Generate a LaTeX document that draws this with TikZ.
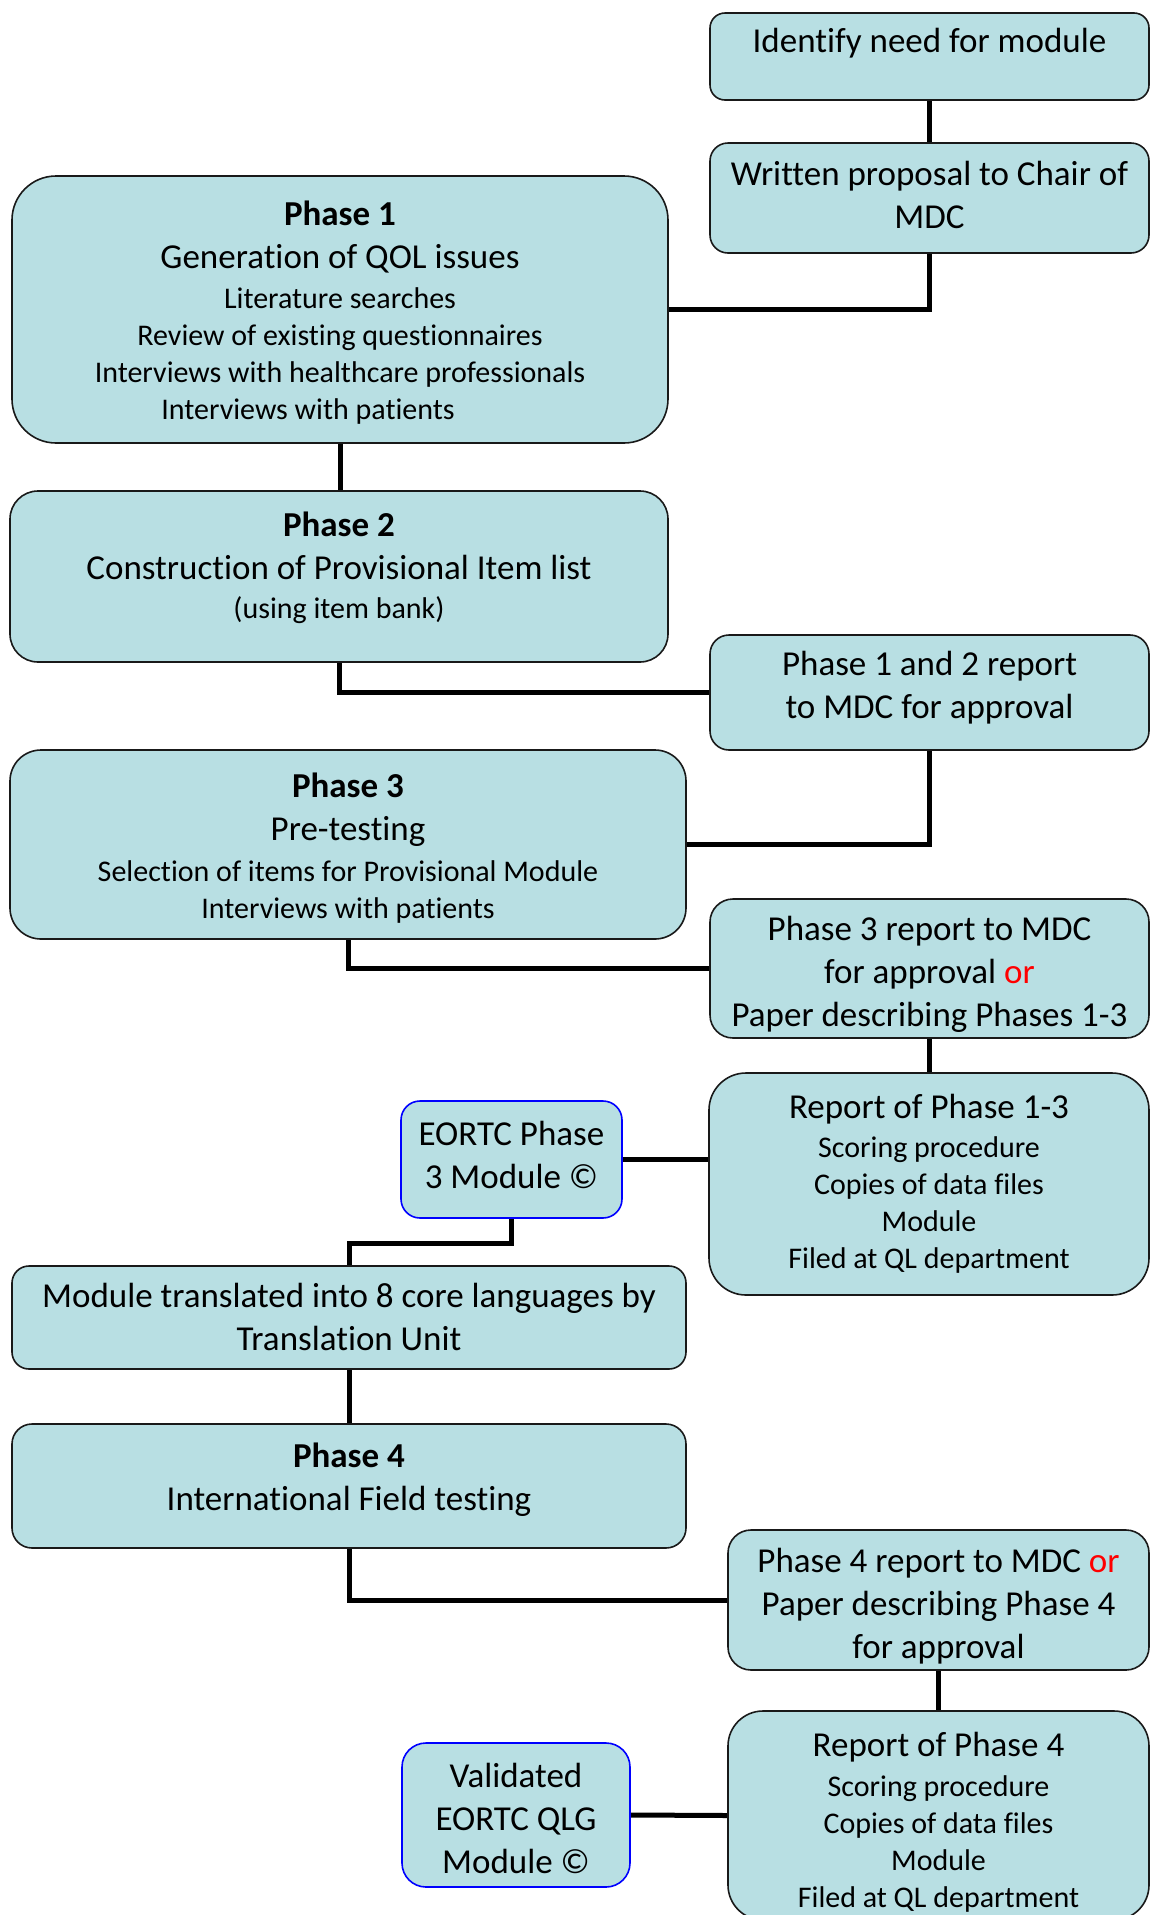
\documentclass[tikz,border=0pt]{standalone}
\usepackage{fontspec}
\setmainfont{Carlito}[Ligatures=CommonOff]
\usetikzlibrary{backgrounds}
\definecolor{boxfill}{RGB}{184,223,227}
\newcommand\txtL{\fontsize{35}{43}\selectfont}
\newcommand\txtS{\fontsize{30}{37}\selectfont}
\tikzset{
  box/.style={draw=black!90, line width=1.6pt, fill=boxfill, inner sep=0pt},
  bluebox/.style={box, draw=blue},
  txt/.style={align=center, inner sep=0pt, font=\txtL},
  conn/.style={line width=5pt, black}
}
\begin{document}
\begin{tikzpicture}[x=1pt,y=-1pt]
\useasboundingbox (0,0) rectangle (1151,1915);
% boxes
\node[box, rounded corners=15pt, minimum width=439pt, minimum height=87pt] (A) at (929.5,56.5) {};
\node[box, rounded corners=18pt, minimum width=439pt, minimum height=110pt] (B) at (929.5,198) {};
\node[box, rounded corners=44pt, minimum width=656pt, minimum height=267pt] (P1) at (340,309.5) {};
\node[box, rounded corners=28pt, minimum width=658pt, minimum height=171pt] (P2) at (339,576.5) {};
\node[box, rounded corners=19pt, minimum width=439pt, minimum height=115pt] (R12) at (929.5,692.5) {};
\node[box, rounded corners=31pt, minimum width=676pt, minimum height=189pt] (P3) at (348,844.5) {};
\node[box, rounded corners=23pt, minimum width=439pt, minimum height=139pt] (R3) at (929.5,968.5) {};
\node[bluebox, rounded corners=19pt, minimum width=221pt, minimum height=117pt] (E3) at (511.5,1159.5) {};
\node[box, rounded corners=37pt, minimum width=440pt, minimum height=222pt] (R13) at (929,1184) {};
\node[box, rounded corners=17pt, minimum width=674pt, minimum height=103pt] (T) at (349,1317.5) {};
\node[box, rounded corners=20pt, minimum width=674pt, minimum height=124pt] (P4) at (349,1486) {};
\node[box, rounded corners=23pt, minimum width=421pt, minimum height=140pt] (R4) at (938.5,1600) {};
\node[bluebox, rounded corners=24pt, minimum width=228pt, minimum height=144pt] (V) at (516,1815) {};
\node[box, rounded corners=35pt, minimum width=421pt, minimum height=209pt] (RP4) at (938.5,1815.5) {};
% texts
\node[txt] (tA) at (929.5,43) {Identify need for module};
\node[txt] (tB) at (929.5,195) {Written proposal to Chair of\\MDC};
\node[txt] (tP1) at (340,313) {\textbf{Phase 1}\\Generation of QOL issues\\[-3pt]\txtS Literature searches\\[-6pt]\txtS Review of existing questionnaires\\[-6pt]\txtS Interviews with healthcare professionals\\[-6pt]\txtS Interviews with patients\hspace*{64pt}};
\node[txt] (tP2) at (339,568) {\textbf{Phase 2}\\Construction of Provisional Item list\\[-4pt]\txtS (using item bank)};
\node[txt] (tR12) at (929.5,688) {Phase 1 and 2 report\\to MDC for approval};
\node[txt] (tP3) at (348,848) {\textbf{Phase 3}\\Pre-testing\\[-2pt]\txtS Selection of items for Provisional Module\\[-6pt]\txtS Interviews with patients};
\node[txt] (tR3) at (929.5,974) {Phase 3 report to MDC\\for approval \textcolor{red}{or}\\Paper describing Phases 1-3};
\node[txt] (tE3) at (511.5,1155) {EORTC Phase\\3 Module ©};
\node[txt] (tR13) at (929,1184) {Report of Phase 1-3\\[-4pt]\txtS Scoring procedure\\[-6pt]\txtS Copies of data files\\[-6pt]\txtS Module\\[-6pt]\txtS Filed at QL department};
\node[txt] (tT) at (349,1317) {Module translated into 8 core languages by\\Translation Unit};
\node[txt] (tP4) at (349,1480) {\textbf{Phase 4}\\International Field testing};
\node[txt] (tR4) at (938.5,1606) {Phase 4 report to MDC \textcolor{red}{or}\\Paper describing Phase 4\\for approval};
\node[txt] (tV) at (516,1818) {Validated\\EORTC QLG\\Module ©};
\node[txt] (tRP4) at (938.5,1822) {Report of Phase 4\\[-3pt]\txtS Scoring procedure\\[-6pt]\txtS Copies of data files\\[-6pt]\txtS Module\\[-6pt]\txtS Filed at QL department};
% connectors
\begin{scope}[on background layer]
\draw[conn] (A.south) -- (B.north);
\draw[conn] (B.south) |- (P1.east);
\draw[conn] (P1.south) -- (P1.south |- P2.north);
\draw[conn] (P2.south) |- (R12.west);
\draw[conn] (R12.south) |- (P3.east);
\draw[conn] (P3.south) |- (R3.west);
\draw[conn] (R3.south) -- (R3.south |- R13.north);
\draw[conn] (E3.east) -- (E3.east -| R13.west);
\draw[conn] (E3.south) -- ++(0,25) -| (T.north);
\draw[conn] (T.south) -- (P4.north);
\draw[conn] (P4.south) |- (R4.west);
\draw[conn] (R4.south) -- (R4.south |- RP4.north);
\draw[conn] (V.east) -- (RP4.west);
\end{scope}
\end{tikzpicture}
\end{document}
